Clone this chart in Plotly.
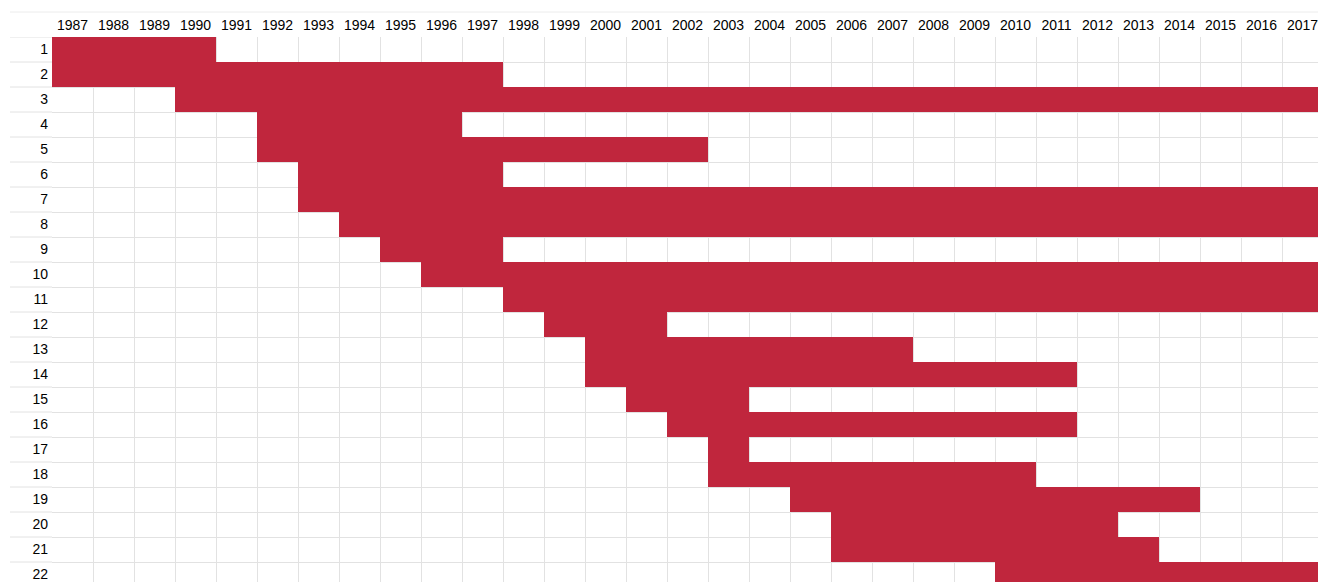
import plotly.graph_objects as go

rows = list(range(1, 23))
start_years = [1987, 1987, 1990, 1992, 1992, 1993, 1993, 1994, 1995, 1996, 1998,
               1999, 2000, 2000, 2001, 2002, 2003, 2003, 2005, 2006, 2006, 2010]
end_years = [1990, 1997, 2017, 1996, 2002, 1997, 2017, 2017, 1997, 2017, 2017,
             2001, 2007, 2011, 2003, 2011, 2003, 2010, 2014, 2012, 2013, 2017]
years = list(range(1987, 2018))

bar_color = "#C0263D"
grid_color = "#e2e2e2"
font_family = "Liberation Sans, Arial, sans-serif"

durations = [e - s + 1 for s, e in zip(start_years, end_years)]
bases = [s - 0.5 for s in start_years]

fig = go.Figure()
fig.add_trace(go.Bar(
    y=rows, x=durations, base=bases, orientation="h", width=1,
    marker=dict(color=bar_color, line=dict(width=0)),
    hoverinfo="skip", showlegend=False,
))

# the page body has an 8px margin, so the figure is offset by 8px
fig_w, fig_h = 1318, 574
m_l, m_r, m_t, m_b = 44, 3, 29, 0
plot_w = fig_w - m_l - m_r
plot_h = fig_h - m_t - m_b
label_x0 = -42 / plot_w

shapes = []
for r in [rows[0] - 0.5] + [r + 0.5 for r in rows]:
    shapes.append(dict(type="line", xref="paper", yref="y", x0=label_x0, x1=0,
                       y0=r, y1=r, line=dict(color=grid_color, width=1), layer="below"))
shapes.append(dict(type="line", xref="paper", yref="paper", x0=label_x0, x1=1,
                   y0=1 + 25 / plot_h, y1=1 + 25 / plot_h,
                   line=dict(color="#ececec", width=1), layer="below"))

fig.update_layout(
    template="none",
    width=fig_w, height=fig_h,
    margin=dict(l=m_l, r=m_r, t=m_t, b=m_b, pad=0),
    paper_bgcolor="white", plot_bgcolor="white",
    bargap=0,
    font=dict(family=font_family, size=14, color="#000000"),
    shapes=shapes,
    xaxis=dict(
        side="top", range=[years[0] - 0.5, years[-1] + 0.5],
        tickvals=years, ticktext=[str(y) for y in years],
        showgrid=False, zeroline=False, ticks="", ticklabelstandoff=3,
        automargin=False, ticklabeloverflow="allow",
        minor=dict(tick0=years[0] - 0.5, dtick=1, showgrid=True,
                   gridcolor=grid_color, gridwidth=1),
        showline=False, fixedrange=True,
    ),
    yaxis=dict(
        range=[22.3, 0.5], tickvals=rows, ticktext=[str(r) for r in rows],
        showgrid=False, zeroline=False, ticks="", ticklabelstandoff=3,
        automargin=False, ticklabeloverflow="allow",
        minor=dict(tick0=0.5, dtick=1, showgrid=True,
                   gridcolor=grid_color, gridwidth=1),
        showline=False, fixedrange=True,
    ),
)

fig.write_html("out.html")
